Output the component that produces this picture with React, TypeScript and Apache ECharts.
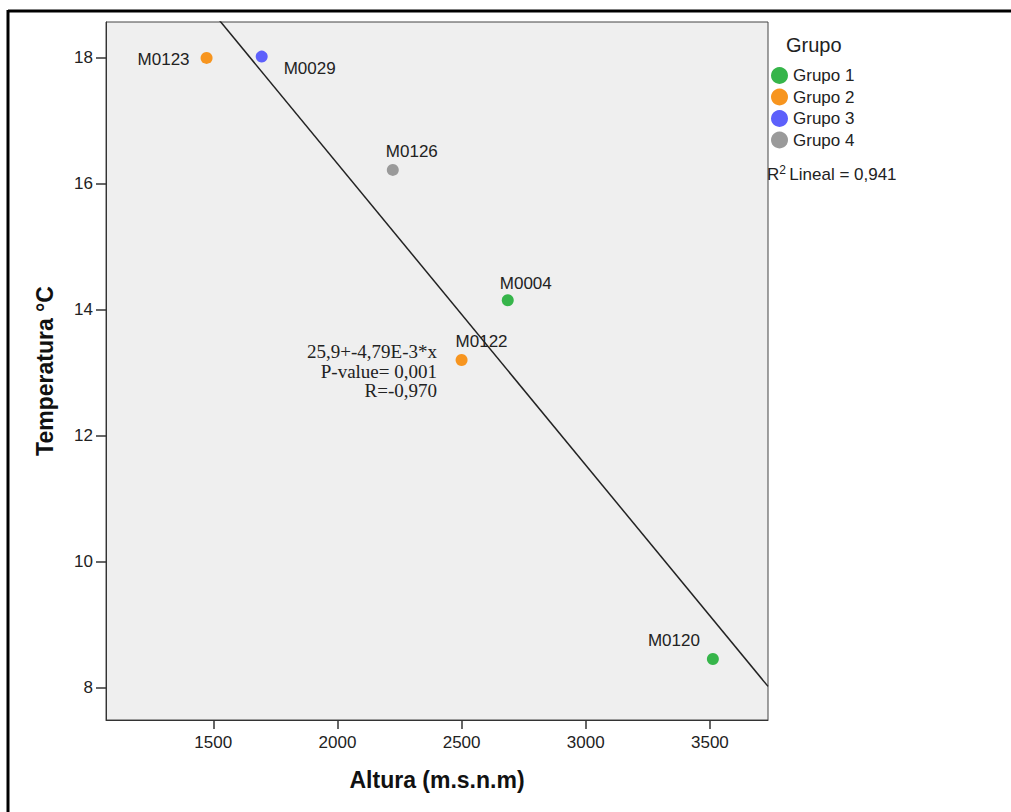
import React, { useEffect, useRef } from "react";
import * as echarts from "echarts";

const groups = ["Grupo 1", "Grupo 2", "Grupo 3", "Grupo 4"];
const groupColors = ["#36b54a", "#f7951f", "#5d60fb", "#9a9a9a"];

const codes = ["M0123", "M0029", "M0126", "M0004", "M0122", "M0120"];
const altura = [1473, 1695, 2223, 2686, 2500, 3512];
const temperatura = [18.0, 18.02, 16.22, 14.15, 13.2, 8.45];
const groupOf = [1, 2, 3, 0, 1, 0];
// label offsets (text centre relative to point)
const labelOffsets: [number, number][] = [
  [-43, 2],
  [48, 12],
  [19, -18],
  [18, -17],
  [20, -18],
  [-39, -18],
];

const xTicks = [1500, 2000, 2500, 3000, 3500];
const yTicks = [8, 10, 12, 14, 16, 18];
const X_MIN = 1068;
const X_MAX = 3734;
const Y_MIN = 7.48;
const Y_MAX = 18.57;

const INTERCEPT = 25.9;
const SLOPE = -4.79e-3;
const annotationLines = ["25,9+-4,79E-3*x", "P-value= 0,001", "R=-0,970"];
const r2Text = "Lineal = 0,941";

export default function App() {
  const ref = useRef<HTMLDivElement>(null);
  useEffect(() => {
    if (!ref.current) return;
    const chart = echarts.init(ref.current, null, { renderer: "svg" });
    const sans = "'Liberation Sans', Arial, sans-serif";

    const scatterSeries = groups.map((g, gi) => ({
      name: g,
      type: "scatter",
      symbol: "circle",
      symbolSize: 12,
      itemStyle: { color: groupColors[gi], opacity: 1 },
      data: altura
        .map((a, i) => ({ i, a }))
        .filter(({ i }) => groupOf[i] === gi)
        .map(({ i, a }) => ({
          value: [a, temperatura[i]],
          label: {
            show: true,
            formatter: codes[i],
            position: "inside",
            align: "center",
            verticalAlign: "middle",
            offset: labelOffsets[i],
            color: "#222",
            fontSize: 17,
            fontFamily: sans,
          },
        })),
      z: 3,
    }));

    const fitLine = [X_MIN, X_MAX].map((x) => [x, INTERCEPT + SLOPE * x]);

    chart.setOption({
      animation: false,
      backgroundColor: "#ffffff",
      grid: {
        left: 106,
        top: 22,
        right: 243,
        bottom: 92,
        show: true,
        backgroundColor: "#efefef",
        borderColor: "#444",
        borderWidth: 1,
      },
      legend: {
        data: groups,
        orient: "vertical",
        left: 766,
        top: 62,
        itemWidth: 17,
        itemHeight: 17,
        itemGap: 4.5,
        icon: "circle",
        textStyle: { fontSize: 17, color: "#222", fontFamily: sans },
      },
      xAxis: {
        type: "value",
        min: X_MIN,
        max: X_MAX,
        name: "Altura (m.s.n.m)",
        nameLocation: "middle",
        nameGap: 48,
        nameTextStyle: { fontSize: 23, fontWeight: "bold", color: "#111", fontFamily: sans },
        axisLine: { show: true, lineStyle: { color: "#333", width: 1 } },
        axisTick: { show: true, length: 9, customValues: xTicks, lineStyle: { color: "#333", width: 1.5 } },
        axisLabel: {
          customValues: xTicks,
          formatter: (v: number) => String(v),
          fontSize: 17,
          color: "#222",
          fontFamily: sans,
          margin: 14,
        },
        splitLine: { show: false },
      },
      yAxis: {
        type: "value",
        min: Y_MIN,
        max: Y_MAX,
        name: "Temperatura °C",
        nameLocation: "middle",
        nameGap: 50,
        nameTextStyle: { fontSize: 23, fontWeight: "bold", color: "#111", fontFamily: sans },
        axisLine: { show: true, lineStyle: { color: "#333", width: 1 } },
        axisTick: { show: true, length: 10, customValues: yTicks, lineStyle: { color: "#333", width: 1.5 } },
        axisLabel: {
          customValues: yTicks,
          formatter: (v: number) => String(v),
          fontSize: 17,
          color: "#222",
          fontFamily: sans,
          margin: 13,
        },
        splitLine: { show: false },
      },
      series: [
        ...scatterSeries,
        {
          name: "fit",
          type: "line",
          data: fitLine,
          symbol: "none",
          clip: true,
          lineStyle: { color: "#222", width: 1.5 },
          z: 2,
          silent: true,
        },
      ],
      graphic: [
        { type: "line", shape: { x1: 8, y1: 11, x2: 1011, y2: 11 }, style: { stroke: "#000", lineWidth: 3 } },
        { type: "line", shape: { x1: 8, y1: 10, x2: 8, y2: 812 }, style: { stroke: "#000", lineWidth: 3 } },
        {
          type: "text",
          x: 786,
          y: 45,
          style: { text: "Grupo", fontSize: 20, fill: "#222", fontFamily: sans, verticalAlign: "middle" },
        },
        {
          type: "text",
          x: 767,
          y: 174,
          style: {
            text: "{r|R}{s|2} {t|" + r2Text + "}",
            verticalAlign: "middle",
            rich: {
              r: { fontSize: 17, fill: "#222", fontFamily: sans },
              s: { fontSize: 12, fill: "#222", fontFamily: sans, verticalAlign: "top", padding: [0, 0, 8, 0] },
              t: { fontSize: 17, fill: "#222", fontFamily: sans },
            },
          },
        },
        {
          type: "text",
          x: 437,
          y: 342,
          z: 10,
          style: {
            text: annotationLines.join("\n"),
            align: "right",
            textAlign: "right",
            verticalAlign: "top",
            fontSize: 19,
            lineHeight: 19.5,
            fill: "#222",
            fontFamily: "'Liberation Serif', 'Times New Roman', serif",
          },
        },
      ],
    });
    return () => chart.dispose();
  }, []);
  return (
    <div
      ref={ref}
      style={{ position: "absolute", left: 0, top: 0, width: 1011, height: 812, background: "#fff" }}
    />
  );
}
